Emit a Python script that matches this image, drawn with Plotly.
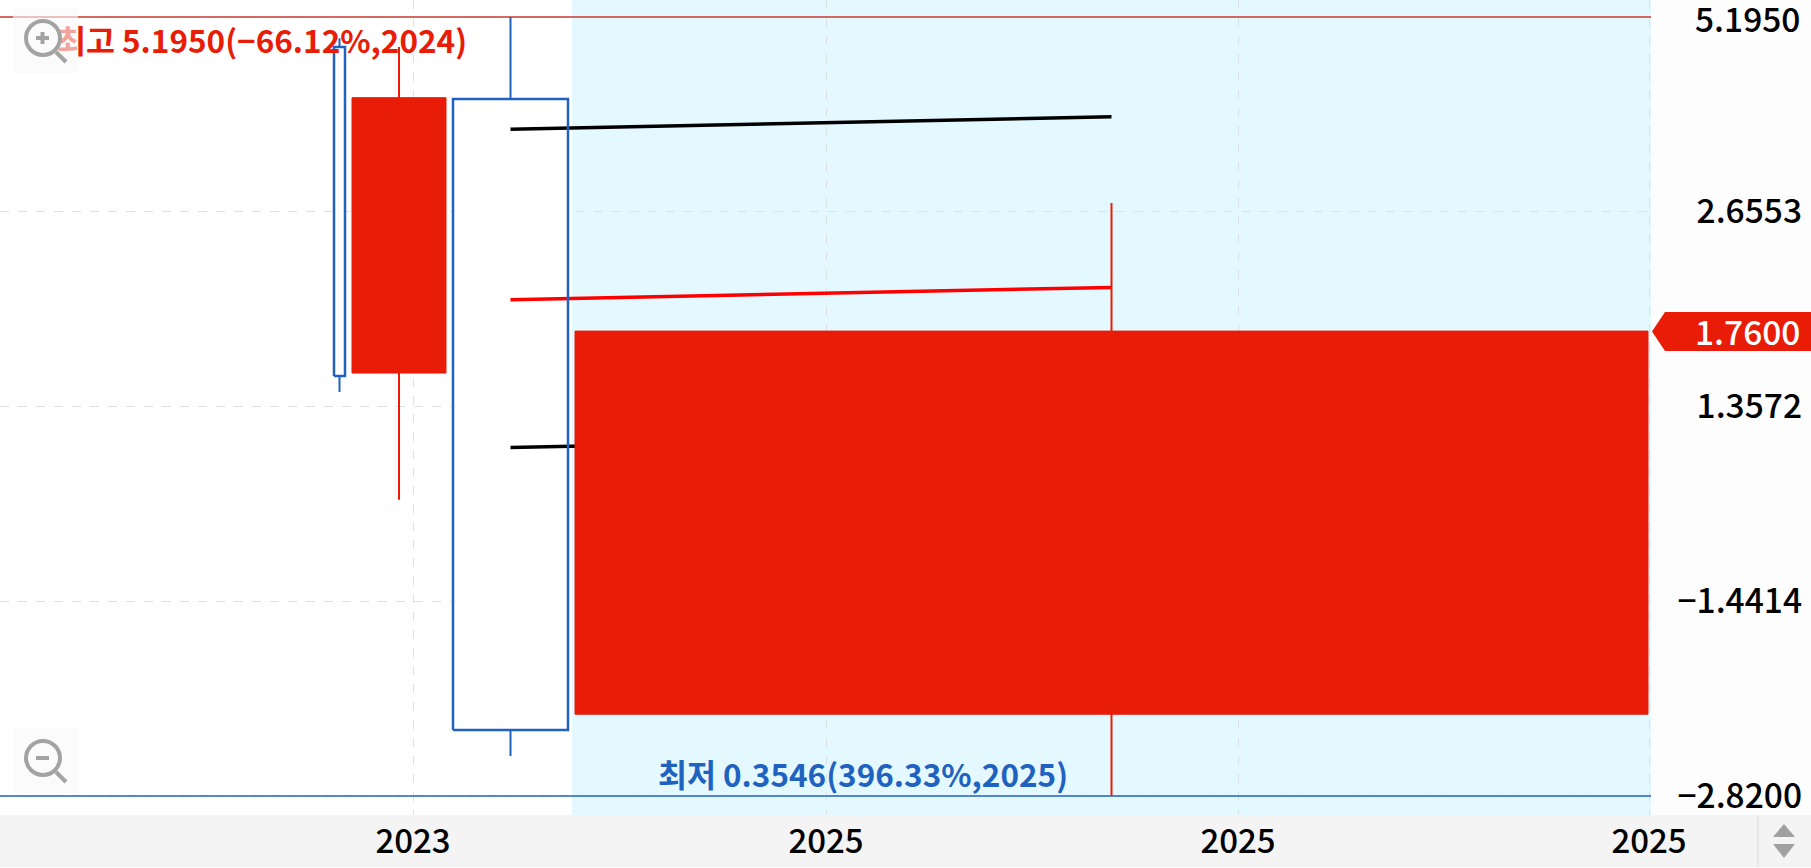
import plotly.graph_objects as go

# ---- data ----
years = ["2023", "2025", "2025", "2025"]
x_tick_pos = [413, 826, 1238, 1649]
y_tick_vals = [5.1950, 2.6553, 1.3572, 0.6939, 0.3546]
y_tick_text = ["5.1950", "2.6553", "1.3572", "\u22121.4414", "\u22122.8200"]

candle_center = [339.5, 399, 510.5, 1111.5]
candle_width = [11, 94, 115, 1073]
candle_open = [4.685, 1.523, 3.916, 0.470]
candle_close = [1.508, 3.934, 0.445, 1.760]
candle_high = [4.83, 4.685, 5.195, 2.737]
candle_low = [1.427, 0.984, 0.407, 0.3546]

line_x = [510.5, 1111.5]
upper_line = [3.528, 3.684]
middle_line = [1.961, 2.046]
lower_line = [1.178, 1.231]

highest = 5.1950
lowest = 0.3546
last_price = 1.7600
high_label = "최고 5.1950(\u221266.12%,2024)"
low_label = "최저 0.3546(396.33%,2025)"
shade_start = 572
x_end = 1651

# ---- styling ----
W, H = 1811, 868
PLOT_B = 815
RED = "#e81c07"
BLUE = "#1f62c0"
FONT = "Noto Sans CJK KR"
LIGHT = "#e4f8ff"
ICON = "#a3a3a3"


def px(x):
    return x / W


def py(y):
    return 1 - y / H


def path(points, close=True):
    s = " ".join(("M" if i == 0 else "L") + f"{px(a):.5f},{py(b):.5f}" for i, (a, b) in enumerate(points))
    return s + (" Z" if close else "")


def rect(i):
    a = candle_center[i] - candle_width[i] / 2
    b = candle_center[i] + candle_width[i] / 2
    lo, hi = sorted([candle_open[i], candle_close[i]])
    return [a, b, b, a, a], [lo, lo, hi, hi, lo]


def wick(i, color):
    return go.Scatter(x=[candle_center[i]] * 2, y=[candle_low[i], candle_high[i]], mode="lines",
                      line=dict(color=color, width=2))


def outline(i, color, fill, width=2.5):
    xs, ys = rect(i)
    return go.Scatter(x=xs, y=ys, mode="lines", fill="toself", fillcolor=fill,
                      line=dict(color=color, width=width))


fig = go.Figure()
# highest / lowest reference lines
fig.add_trace(go.Scatter(x=[0, x_end], y=[highest, highest], mode="lines", line=dict(color="#c8382f", width=1.5)))
fig.add_trace(go.Scatter(x=[0, x_end], y=[lowest, lowest], mode="lines", line=dict(color=BLUE, width=1.5)))
# candles 1, 2
fig.add_trace(wick(0, BLUE))
fig.add_trace(outline(0, BLUE, "#ffffff"))
fig.add_trace(wick(1, RED))
fig.add_trace(outline(1, RED, RED, 1))
# candle 3, lines between its fill and border
fig.add_trace(wick(2, BLUE))
fig.add_trace(outline(2, "rgba(0,0,0,0)", "#ffffff"))
for vals, col in [(upper_line, "#000000"), (middle_line, "#ff0000"), (lower_line, "#000000")]:
    fig.add_trace(go.Scatter(x=line_x, y=vals, mode="lines", line=dict(color=col, width=3.5)))
xs3, ys3 = rect(2)
fig.add_trace(go.Scatter(x=xs3, y=ys3, mode="lines", line=dict(color=BLUE, width=2.5)))
# candle 4
fig.add_trace(wick(3, RED))
fig.add_trace(outline(3, RED, RED, 1))
# labels of highest / lowest
fig.add_trace(go.Scatter(x=[262], y=[4.71], mode="text", text=[high_label], textposition="middle center",
                         textfont=dict(family=FONT, size=31.5, color=RED, weight=600), cliponaxis=False))
fig.add_trace(go.Scatter(x=[863], y=[0.3754], mode="text", text=[low_label], textposition="middle center",
                         textfont=dict(family=FONT, size=31.5, color=BLUE, weight=600), cliponaxis=False))

shapes = [
    # shaded session
    dict(type="rect", xref="x", yref="paper", x0=shade_start, x1=x_end, y0=py(PLOT_B), y1=1,
         fillcolor=LIGHT, line_width=0, layer="below"),
    # x axis strip
    dict(type="rect", xref="paper", yref="paper", x0=0, x1=1, y0=py(867), y1=py(PLOT_B),
         fillcolor="#f4f4f4", line_width=0, layer="below"),
    dict(type="line", xref="paper", yref="paper", x0=px(1758), x1=px(1758), y0=py(867), y1=py(PLOT_B),
         line=dict(color="#dcdcdc", width=1), layer="below"),
    # scroll arrows
    dict(type="path", xref="paper", yref="paper", path=path([(1784, 824), (1795, 837), (1773, 837)]),
         fillcolor="#a0a0a0", line_width=0),
    dict(type="path", xref="paper", yref="paper", path=path([(1773, 844), (1795, 844), (1784, 858)]),
         fillcolor="#a0a0a0", line_width=0),
    # last price tag
    dict(type="path", xref="paper", yref="paper", path=path([(1652, 331.5), (1665, 312), (1811, 312), (1811, 351), (1665, 351)]),
         fillcolor=RED, line_width=0),
]

# zoom buttons
for top, plus in [(8, True), (728, False)]:
    cy = top + 30
    shapes.append(dict(type="rect", xref="paper", yref="paper", x0=px(13), x1=px(78), y0=py(top + 65), y1=py(top),
                       fillcolor="rgba(248,248,248,0.62)", line_width=0, layer="above"))
    shapes.append(dict(type="circle", xref="paper", yref="paper", x0=px(26), x1=px(60), y0=py(cy + 17), y1=py(cy - 17),
                       line=dict(color=ICON, width=4), fillcolor="rgba(0,0,0,0)", layer="above"))
    shapes.append(dict(type="line", xref="paper", yref="paper", x0=px(56), x1=px(66), y0=py(cy + 14), y1=py(cy + 24),
                       line=dict(color=ICON, width=4), layer="above"))
    shapes.append(dict(type="line", xref="paper", yref="paper", x0=px(36), x1=px(49), y0=py(cy), y1=py(cy),
                       line=dict(color=ICON, width=4), layer="above"))
    if plus:
        shapes.append(dict(type="line", xref="paper", yref="paper", x0=px(42.5), x1=px(42.5), y0=py(cy + 6), y1=py(cy - 6),
                           line=dict(color=ICON, width=4), layer="above"))

fig.update_layout(
    width=W, height=H, showlegend=False, hovermode=False,
    margin=dict(l=0, r=0, t=0, b=0, pad=0, autoexpand=False),
    paper_bgcolor="#fdfdfd", plot_bgcolor="#ffffff",
    font=dict(family=FONT, size=33, color="#000000"),
    shapes=shapes,
    annotations=[
        dict(xref="paper", yref="paper", x=px(1802), y=py(330), xanchor="right", yanchor="middle",
             text=f"{last_price:.4f}", showarrow=False, font=dict(family=FONT, size=33.5, color="#ffffff", weight=500)),
        # top tick label sits just below its line, as in the reference
        dict(xref="paper", yref="paper", x=px(1802), y=py(18), xanchor="right", yanchor="middle",
             text=y_tick_text[0], showarrow=False, font=dict(family=FONT, size=33.5, color="#000000", weight=500)),
    ],
    xaxis=dict(domain=[0, x_end / W], range=[0, x_end], tickmode="array", tickvals=x_tick_pos, ticktext=years,
               showgrid=True, griddash="dash", gridcolor="#dbe1e4", gridwidth=1, zeroline=False, showline=False,
               ticks="", tickfont=dict(family=FONT, size=33, color="#000000", weight=500), ticklabelstandoff=4),
    yaxis=dict(domain=[1 - PLOT_B / H, 1], type="log", range=[-0.47871, 0.74102], side="left", anchor="free",
               position=1802 / W, autorange=False, tickmode="array", tickvals=y_tick_vals[1:], ticktext=y_tick_text[1:],
               showgrid=True, griddash="dash", gridcolor="#dbe1e4", gridwidth=1, zeroline=False, showline=False,
               ticklabeloverflow="allow",
               ticks="", tickfont=dict(family=FONT, size=33.5, color="#000000", weight=500)),
)

fig.write_html("out.html", config=dict(displayModeBar=False),
               post_script="document.body.style.margin='0';document.documentElement.style.overflow='hidden';")
